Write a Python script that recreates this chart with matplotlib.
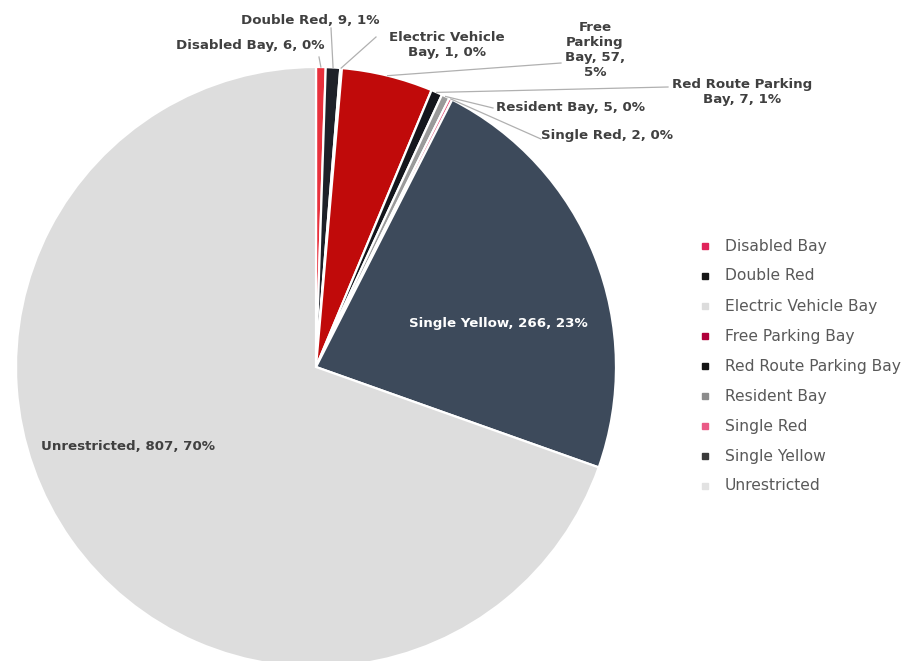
import numpy as np
import matplotlib
matplotlib.use("Agg")
import matplotlib.pyplot as plt
from matplotlib.patches import Rectangle

categories = ["Disabled Bay", "Double Red", "Electric Vehicle Bay", "Free Parking Bay",
              "Red Route Parking Bay", "Resident Bay", "Single Red", "Single Yellow", "Unrestricted"]
values = [6, 9, 1, 57, 7, 5, 2, 266, 807]
pct_labels = ["0%", "1%", "0%", "5%", "1%", "0%", "0%", "23%", "70%"]

colors = ["#e8303c", "#1e2129", "#e4e4e4", "#c00a0a", "#14161c", "#9a9a9a", "#e8507a", "#3d4a5b", "#dddddd"]
legend_colors = ["#e0245a", "#161616", "#dcdcdc", "#b0003a", "#141414", "#8c8c8c", "#ea5a86", "#3a3a3a", "#e2e2e2"]

W, H = 910, 661
fig = plt.figure(figsize=(W / 100, H / 100), dpi=100)
ax = fig.add_axes([0, 0, 1, 1])

cx, cy, R = 316, H - 367, 300
wedges, _ = ax.pie(values, colors=colors, startangle=90, counterclock=False,
                   center=(cx, cy), radius=R, frame=True,
                   wedgeprops=dict(edgecolor="white", linewidth=1.6))
ax.set_xlim(0, W)
ax.set_ylim(0, H)
ax.axis("off")

font = "DejaVu Sans"
lab_color = "#404040"

label_texts = [
    f"{categories[0]}, {values[0]}, {pct_labels[0]}",
    f"{categories[1]}, {values[1]}, {pct_labels[1]}",
    f"Electric Vehicle\nBay, {values[2]}, {pct_labels[2]}",
    f"Free\nParking\nBay, {values[3]},\n{pct_labels[3]}",
    f"Red Route Parking\nBay, {values[4]}, {pct_labels[4]}",
    f"{categories[5]}, {values[5]}, {pct_labels[5]}",
    f"{categories[6]}, {values[6]}, {pct_labels[6]}",
    f"{categories[7]}, {values[7]}, {pct_labels[7]}",
    f"{categories[8]}, {values[8]}, {pct_labels[8]}",
]
label_pos = [(250, 46), (310, 21), (447, 45), (595, 50), (742, 92),
             (570, 108), (607, 135), (498, 324), (128, 447)]
leader_end = [(319, 57), (331, 28), (376, 37), (561, 63), (668, 87),
              (493, 108), (541, 139), None, None]

for i, w in enumerate(wedges):
    x, y = label_pos[i]
    ax.text(x, H - y, label_texts[i], ha="center", va="center", fontsize=9.6,
            fontweight="bold", family=font, linespacing=1.2,
            color="white" if i == 7 else lab_color, zorder=5)
    if leader_end[i] is not None:
        ang = np.deg2rad((w.theta1 + w.theta2) / 2)
        px, py = cx + R * np.cos(ang), cy + R * np.sin(ang)
        ex, ey = leader_end[i]
        ax.plot([px, ex], [py, H - ey], color="#b0b0b0", lw=0.9, zorder=4)

leg_x, leg_y0, step = 705, 246, 30
for i, cat in enumerate(categories):
    y = H - (leg_y0 + i * step)
    ax.add_patch(Rectangle((leg_x - 3, y - 3), 6, 6, color=legend_colors[i], zorder=5))
    ax.text(leg_x + 20, y, cat, ha="left", va="center", fontsize=11.2, family=font,
            color="#595959")

fig.savefig("out.png", dpi=100)
